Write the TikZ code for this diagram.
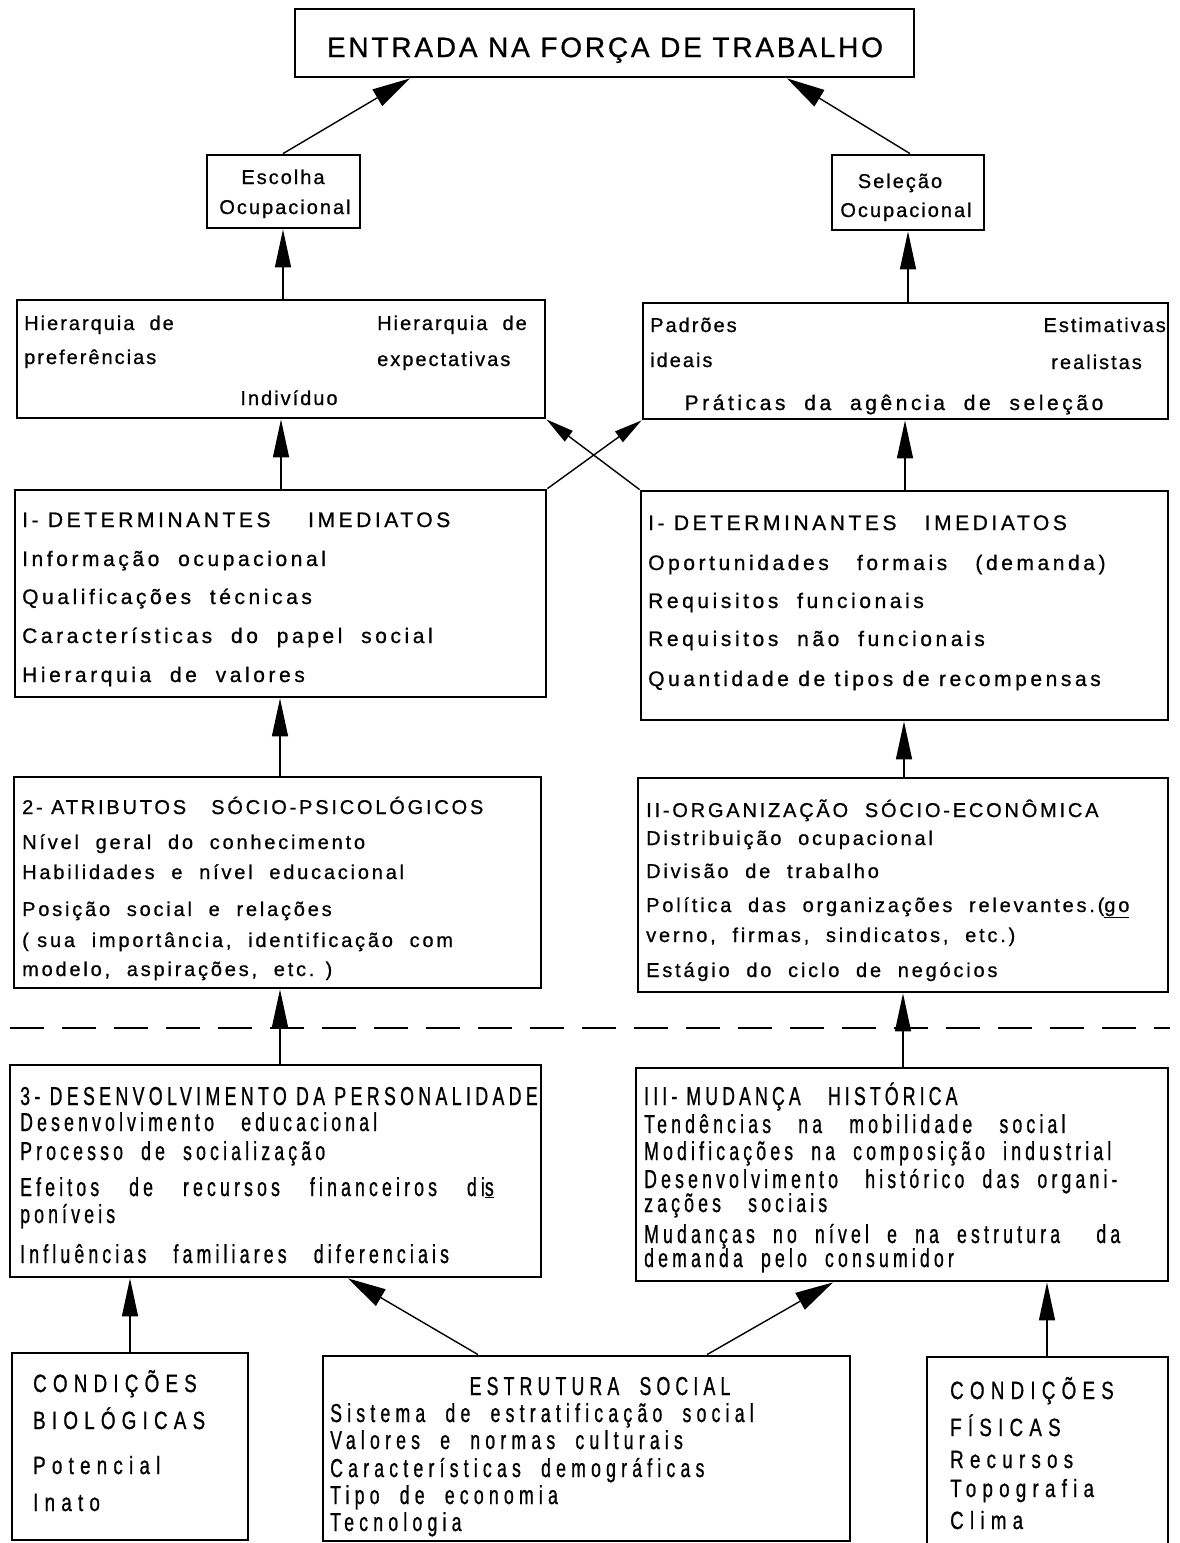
\documentclass[tikz,border=0pt]{standalone}
\usepackage{fontspec}
\setmainfont{Liberation Sans}
\newfontfamily\ft[LetterSpace=10,FakeBold=0.8]{Liberation Sans}
\newfontfamily\fa[LetterSpace=17,FakeBold=0.8]{Liberation Sans}
\newfontfamily\fb[LetterSpace=10,FakeBold=0.8]{Liberation Sans}
\newfontfamily\fc[LetterSpace=14,FakeBold=0.8]{Liberation Sans}
\newfontfamily\fn[FakeStretch=0.68,LetterSpace=16,FakeBold=0.8]{Liberation Sans}
\newfontfamily\fm[FakeStretch=0.68,LetterSpace=20,FakeBold=0.8]{Liberation Sans}
\newfontfamily\fw[FakeStretch=0.75,LetterSpace=25,FakeBold=0.8]{Liberation Sans}
\usetikzlibrary{arrows.meta,fit}
\tikzset{
  box/.style={draw, line width=2.8pt, inner sep=0pt},
  arr/.style={line width=1.4pt, -{Triangle[length=38pt,width=16pt]}},
  arrt/.style={line width=1.4pt, -{Triangle[length=38pt,width=19pt]}},
  arrs/.style={line width=1.4pt, -{Triangle[length=28pt,width=13pt]}},
  ta/.style={anchor=base west, inner sep=0pt, font=\fa\fontsize{21}{25}\selectfont},
  tac/.style={anchor=base, inner sep=0pt, font=\fa\fontsize{21}{25}\selectfont},
  tb/.style={anchor=base west, inner sep=0pt, font=\fb\fontsize{20}{24}\selectfont},
  tbc/.style={anchor=base, inner sep=0pt, font=\fb\fontsize{20}{24}\selectfont},
  tbe/.style={anchor=base east, inner sep=0pt, font=\fb\fontsize{20}{24}\selectfont},
  tc/.style={anchor=base west, inner sep=0pt, font=\fc\fontsize{20}{24}\selectfont},
  tn/.style={anchor=base west, inner sep=0pt, font=\fn\fontsize{26}{30}\selectfont, text height=19pt, text depth=5pt},
  tm/.style={anchor=base west, inner sep=0pt, font=\fm\fontsize{26}{30}\selectfont},
  tmc/.style={anchor=base, inner sep=0pt, font=\fm\fontsize{26}{30}\selectfont},
  tw/.style={anchor=base west, inner sep=0pt, font=\fw\fontsize{25}{29}\selectfont},
  title/.style={anchor=base, inner sep=0pt, font=\ft\fontsize{28}{32}\selectfont},
}
\begin{document}
\begin{tikzpicture}[x=1pt,y=-1pt]
\useasboundingbox[fill=white] (0,0) rectangle (1180,1543);

% boxes
\node[box, fit={(295,9)(914,77)}] (top) {};
\node[box, fit={(207,155)(360,228)}] (esc) {};
\node[box, fit={(832,155)(984,230)}] (sel) {};
\node[box, fit={(17,300)(545,418)}] (ind) {};
\node[box, fit={(643,303)(1168,419)}] (pad) {};
\node[box, fit={(15,490)(546,697)}] (detl) {};
\node[box, fit={(641,491)(1168,720)}] (detr) {};
\node[box, fit={(14,777)(541,988)}] (atr) {};
\node[box, fit={(638,778)(1168,992)}] (org) {};
\node[box, fit={(10,1065)(541,1277)}] (des) {};
\node[box, fit={(636,1068)(1168,1281)}] (mud) {};
\node[box, fit={(12,1353)(248,1540)}] (bio) {};
\node[box, fit={(323,1356)(850,1541)}] (est) {};
\node[box, fit={(927,1357)(1168,1548)}] (fis) {};

% dashed separator
\coordinate (dA) at (10,1028);
\coordinate (dB) at (1170,1028);
\draw[line width=2.8pt, dash pattern=on 34pt off 18pt] (dA) -- (dB);

% title
\node[title] (tt) at (605,57) {ENTRADA NA FORÇA DE TRABALHO};

% small boxes
\node[tbc] (e1) at (283,184) {Escolha};
\node[tbc] (e2) at (285,214) {Ocupacional};
\node[tbc] (s1) at (900,188) {Seleção};
\node[tbc] (s2) at (906,217) {Ocupacional};

% individuo
\node[tb] (i1) at (24,330) {Hierarquia\ \ de};
\node[tb] (i2) at (24,364) {preferências};
\node[tb] (i3) at (377,330) {Hierarquia\ \ de};
\node[tb] (i4) at (377,366) {expectativas};
\node[tbc] (i5) at (289,405) {Indivíduo};

% padroes
\node[tb] (p1) at (650,332) {Padrões};
\node[tb] (p2) at (650,367) {ideais};
\node[tbe] (p3) at (1166,332) {Estimativas};
\node[tbe] (p4) at (1142,369) {realistas};
\node[tac] (p5) at (894,410) {Práticas\ \ da\ \ agência\ \ de\ \ seleção};

% determinantes left
\foreach \y/\t [count=\i] in {527/{I- DETERMINANTES\ \ \ \ IMEDIATOS},566/{Informação\ \ ocupacional},604/{Qualificações\ \ técnicas},643/{Características\ \ do\ \ papel\ \ social},682/{Hierarquia\ \ de\ \ valores}}
  \node[ta] (dl\i) at (22,\y) {\t};

% determinantes right
\foreach \y/\t [count=\i] in {530/{I- DETERMINANTES\ \ \ IMEDIATOS},570/{Oportunidades\ \ \ formais\ \ \ (demanda)},608/{Requisitos\ \ funcionais},646/{Requisitos\ \ não\ \ funcionais},686/{Quantidade\ de\ tipos\ de\ recompensas}}
  \node[ta] (dr\i) at (648,\y) {\t};

% atributos
\foreach \y/\t [count=\i] in {814/{2- ATRIBUTOS\ \ \ SÓCIO-PSICOLÓGICOS},849/{Nível\ \ geral\ \ do\ \ conhecimento},879/{Habilidades\ \ e\ \ nível\ \ educacional},916/{Posição\ \ social\ \ e\ \ relações},947/{( sua\ \ importância,\ \ identificação\ \ com},976/{modelo,\ \ aspirações,\ \ etc. )}}
  \node[tc] (at\i) at (22,\y) {\t};

% organizacao
\foreach \y/\t [count=\i] in {817/{II-ORGANIZAÇÃO\ \ SÓCIO-ECONÔMICA},845/{Distribuição\ \ ocupacional},878/{Divisão\ \ de\ \ trabalho},912/{Política\ \ das\ \ organizações\ \ relevantes.(\underline{go}},942/{verno,\ \ firmas,\ \ sindicatos,\ \ etc.)},977/{Estágio\ \ do\ \ ciclo\ \ de\ \ negócios}}
  \node[tc] (og\i) at (646,\y) {\t};

% desenvolvimento
\node[tn, font=\fn\fontsize{26}{30}\selectfont\addfontfeature{LetterSpace=17}] (de0) at (20,1105) {3- DESENVOLVIMENTO DA PERSONALIDADE};
\node[tn] (de1) at (20,1131) {Desenvolvimento\ \ \ educacional};
\node[tn] (de2) at (20,1160) {Processo\ \ de\ \ socialização};
\node[tn] (de3) at (20,1196) {Efeitos\hspace{30pt}de\hspace{30pt}recursos\hspace{30pt}financeiros\hspace{30pt}di\underline{s}};
\node[tn] (de4) at (20,1223) {poníveis};
\node[tn] (de5) at (20,1263) {Influências\ \ \ familiares\ \ \ diferenciais};

% mudanca
\foreach \y/\t [count=\i] in {1105/{III- MUDANÇA\ \ \ HISTÓRICA},1133/{Tendências\ \ \ na\ \ \ mobilidade\ \ \ social},1160/{Modificações\ \ na\ \ composição\ \ industrial},1188/{Desenvolvimento\ \ \ histórico\ \ das\ \ organi-},1212/{zações\ \ \ sociais},1243/{Mudanças\ \ no\ \ nível\ \ e\ \ na\ \ estrutura\ \ \ \ da},1267/{demanda\ \ pelo\ \ consumidor}}
  \node[tn] (mu\i) at (644,\y) {\t};

% biologicas
\node[tw] (b1) at (33,1392) {CONDIÇÕES};
\node[tw] (b2) at (33,1429) {BIOLÓGICAS};
\node[tw] (b3) at (33,1474) {Potencial};
\node[tw] (b4) at (33,1511) {Inato};

% estrutura
\node[tmc] (es0) at (600,1395) {ESTRUTURA\ \ SOCIAL};
\foreach \y/\t [count=\i] in {1422/{Sistema\ \ de\ \ estratificação\ \ social},1449/{Valores\ \ e\ \ normas\ \ culturais},1477/{Características\ \ demográficas},1504/{Tipo\ \ de\ \ economia},1531/{Tecnologia}}
  \node[tm] (es\i) at (330,\y) {\t};

% fisicas
\node[tw] (f1) at (950,1399) {CONDIÇÕES};
\node[tw] (f2) at (950,1436) {FÍSICAS};
\node[tw] (f3) at (950,1468) {Recursos};
\node[tw] (f4) at (950,1497) {Topografia};
\node[tw] (f5) at (950,1529) {Clima};

% connectors
\draw[arrt] (283,0 |- esc.north) -- (410,0 |- top.south);
\draw[arrt] (910,0 |- sel.north) -- (787,0 |- top.south);
\draw[arr] (283,0 |- ind.north) -- (283,0 |- esc.south);
\draw[arr] (908,0 |- pad.north) -- (908,0 |- sel.south);
\draw[arr] (281,0 |- detl.north) -- (281,0 |- ind.south);
\draw[arr] (905,0 |- detr.north) -- (905,0 |- pad.south);
\draw[arrs] (detl.north east) -- (pad.south west);
\draw[arrs] (detr.north west) -- (ind.south east);
\draw[arr] (280,0 |- atr.north) -- (280,0 |- detl.south);
\draw[arr] (904,0 |- org.north) -- (904,0 |- detr.south);
\draw[arr] (280,0 |- des.north) -- (280,0 |- atr.south);
\draw[arr] (903,0 |- mud.north) -- (903,0 |- org.south);
\draw[arr] (130,0 |- bio.north) -- (130,0 |- des.south);
\draw[arrt] (478,0 |- est.north) -- (348,0 |- des.south);
\draw[arrt] (707,0 |- est.north) -- (833,0 |- mud.south);
\draw[arr] (1047,0 |- fis.north) -- (1047,0 |- mud.south);
\end{tikzpicture}
\end{document}
